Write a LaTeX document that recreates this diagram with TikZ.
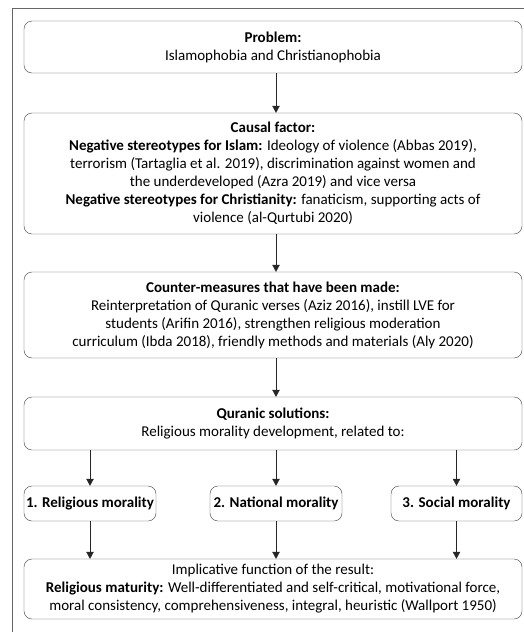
\documentclass[tikz,border=0pt]{standalone}
\usepackage{fontspec}
\setmainfont{Carlito}
\usetikzlibrary{arrows.meta}
\tikzset{
  box/.style={draw=black!75, rounded corners=8pt, align=center, inner sep=1pt,
    font=\fontsize{15}{18}\selectfont},
  flow/.style={draw=black!85, -{Triangle[width=7.5pt,length=7pt]}}
}
\begin{document}
\begin{tikzpicture}[x=1pt,y=-1pt]
		\useasboundingbox (0,0) rectangle (524,632);
		\draw[black!60] (12,632) -- (12,8) -- (524,8);
		\node[box, minimum width=498pt, minimum height=52pt] (problem) at (273,47)
			{\textbf{Problem:}\\Islamophobia and Christianophobia};
		\node[box, minimum width=498pt, minimum height=121pt] (causal) at (273,173.5)
			{\textbf{Causal factor:}\\
			\textbf{Negative stereotypes for Islam:} Ideology of violence (Abbas 2019),\\
			terrorism (Tartaglia et al. 2019), discrimination against women and\\
			the underdeveloped (Azra 2019) and vice versa\\
			\textbf{Negative stereotypes for Christianity:} fanaticism, supporting acts of\\
			violence (al-Qurtubi 2020)};
		\node[box, minimum width=498pt, minimum height=86pt] (counter) at (273,315)
			{\textbf{Counter-measures that have been made:}\\
			Reinterpretation of Quranic verses (Aziz 2016), instill LVE for\\
			students (Arifin 2016), strengthen religious moderation\\
			curriculum (Ibda 2018), friendly methods and materials (Aly 2020)};
		\node[box, minimum width=498pt, minimum height=53pt] (quranic) at (273,423.5)
			{\textbf{Quranic solutions:}\\Religious morality development, related to:};
		\node[box, minimum width=132pt, minimum height=35pt] (religious) at (90,503.5)
			{\textbf{1. Religious morality}};
		\node[box, minimum width=132pt, minimum height=35pt] (national) at (276,503.5)
			{\textbf{2. National morality}};
		\node[box, minimum width=131pt, minimum height=35pt] (social) at (456.5,503.5)
			{\textbf{3. Social morality}};
		\node[box, minimum width=498pt, minimum height=60pt] (result) at (273,589)
			{Implicative function of the result:\\
			\textbf{Religious maturity:} Well-differentiated and self-critical, motivational force,\\
			moral consistency, comprehensiveness, integral, heuristic (Wallport 1950)};
		\draw[flow] (problem.south -| national) -- (causal.north -| national);
		\draw[flow] (causal.south -| national) -- (counter.north -| national);
		\draw[flow] (counter.south -| national) -- (quranic.north -| national);
		\foreach \m in {religious,national,social} {
			\draw[flow] (quranic.south -| \m) -- (\m);
			\draw[flow] (\m) -- (result.north -| \m);
		}
	\end{tikzpicture}
\end{document}
